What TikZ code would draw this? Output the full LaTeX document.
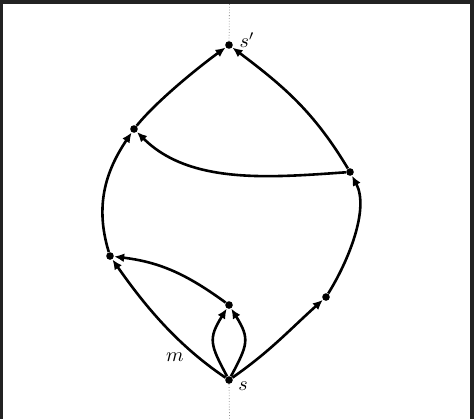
\documentclass[tikz,border=0pt]{standalone}
\usepackage{amsmath,amssymb}
\usepackage{tikz}
\usetikzlibrary{arrows.meta,positioning,calc}
\definecolor{frameCol}{RGB}{34,34,34}
\definecolor{axisCol}{RGB}{150,150,150}
\tikzset{
  vtx/.style={circle,fill=black,inner sep=0pt,minimum size=3.8pt},
  arc/.style={-{Latex[length=5pt,width=4.4pt]},line width=1.3pt},
  axis/.style={densely dotted,draw=axisCol,line width=0.4pt},
  lbl/.style={font=\normalsize},
}
\begin{document}
\begin{tikzpicture}[x=0.5pt,y=-0.5pt]
    % --- frame ---
    \fill[frameCol] (0,0) rectangle (474,419);
    \fill[white] (3,4) rectangle (470,419);
    \useasboundingbox (0,0) rectangle (474,419);
    % --- vertices ---
    \node[vtx] (s)  at (229,380) {};
    \node[vtx] (t)  at (229,45) {};
    \node[vtx] (a)  at (134,129) {};
    \node[vtx] (b)  at (350,172) {};
    \node[vtx] (c)  at (110,256) {};
    \node[vtx] (d)  at (229,305) {};
    \node[vtx] (e)  at (326,297) {};
    % --- dotted axis ---
    \coordinate (top) at (229.5,4);
    \coordinate (bot) at (229.5,419);
    \draw[axis] (top) -- (t);
    \draw[axis] (s) -- (bot);
    % --- labels ---
    \node[lbl] (ls) at (243,386) {$s$};
    \node[lbl] (lt) at (247,40) {$s'$};
    \node[lbl] (lm) at (175,357) {$m$};
    % --- arcs ---
    \draw[arc] (s) to[out=146,in=-55,looseness=0.9] (c);
    \draw[arc] (s) to[out=118,in=238,looseness=1.35] (d);
    \draw[arc] (s) to[out=62,in=-58,looseness=1.35] (d);
    \draw[arc] (d) to[out=144,in=-7] (c);
    \draw[arc] (s) to[out=35,in=222] (e);
    \draw[arc] (e) to[out=58,in=-62,looseness=0.8] (b);
    \draw[arc] (b) to[out=184,in=-45,looseness=0.9] (a);
    \draw[arc] (c) to[out=107,in=236] (a);
    \draw[arc] (a) to[out=51,in=216,looseness=0.7] (t);
    \draw[arc] (b) to[out=121,in=-37] (t);
\end{tikzpicture}
\end{document}
